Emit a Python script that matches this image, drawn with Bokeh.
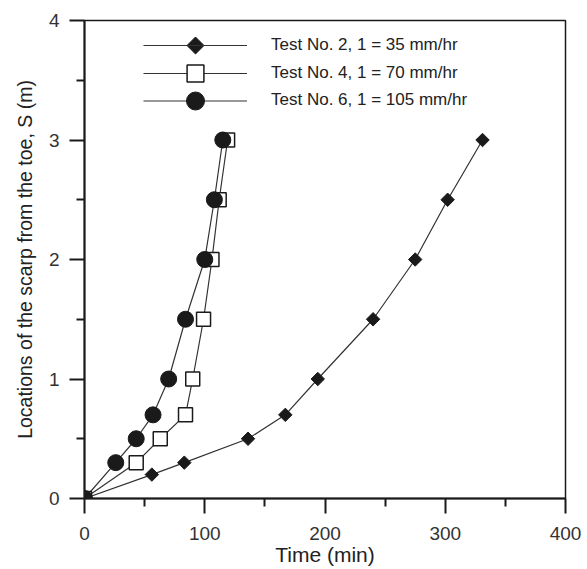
import math
from bokeh.plotting import figure
from bokeh.models import FixedTicker, Legend, LegendItem, Range1d
from bokeh.embed import file_html
from bokeh.resources import INLINE

# ---- data ----
t2_time = [0, 56, 83, 136, 167, 194, 240, 275, 302, 331]
t2_s = [0, 0.2, 0.3, 0.5, 0.7, 1.0, 1.5, 2.0, 2.5, 3.0]
t4_time = [0, 43, 63, 84, 90, 99, 106, 112, 119]
t4_s = [0, 0.3, 0.5, 0.7, 1.0, 1.5, 2.0, 2.5, 3.0]
t6_time = [0, 26, 43, 57, 70, 84, 100, 108, 115]
t6_s = [0, 0.3, 0.5, 0.7, 1.0, 1.5, 2.0, 2.5, 3.0]

labels = ["Test No. 2, 1 = 35 mm/hr",
          "Test No. 4, 1 = 70 mm/hr",
          "Test No. 6, 1 = 105 mm/hr"]

x_ticks = [0, 100, 200, 300, 400]
x_minor = [50, 150, 250, 350]
y_ticks = [0, 1, 2, 3, 4]
y_minor = [0.5, 1.5, 2.5, 3.5]

FONT = "Liberation Sans"
INK = "#1a1a1a"

# layout constants (screen px)
W, H = 587, 569
B_LEFT, B_RIGHT, B_TOP, B_BOTTOM = 84, 22, 20, 71
X0, X1, Y0, Y1 = 0, 400, 0, 4

p = figure(width=W, height=H, output_backend="svg", toolbar_location=None,
           x_range=Range1d(X0, X1), y_range=Range1d(Y0, Y1),
           min_border_left=B_LEFT, min_border_right=B_RIGHT, min_border_top=B_TOP,
           min_border_bottom=B_BOTTOM)
p.background_fill_color = "white"
p.border_fill_color = "white"
p.xgrid.visible = False
p.ygrid.visible = False
p.outline_line_color = INK
p.outline_line_width = 1.5

p.xaxis.ticker = FixedTicker(ticks=x_ticks, minor_ticks=x_minor)
p.yaxis.ticker = FixedTicker(ticks=y_ticks, minor_ticks=y_minor)
p.xaxis.axis_label = "Time (min)"
p.yaxis.axis_label = "Locations of the scarp from the toe, S (m)"

for ax in (p.xaxis[0], p.yaxis[0]):
    ax.axis_line_color = INK
    ax.axis_line_width = 2
    ax.major_tick_line_color = INK
    ax.major_tick_line_width = 2
    ax.minor_tick_line_color = INK
    ax.minor_tick_line_width = 2
    ax.major_tick_in = 0
    ax.major_tick_out = 15
    ax.minor_tick_in = 0
    ax.minor_tick_out = 8
    ax.major_label_text_font = FONT
    ax.major_label_text_font_size = "19px"
    ax.major_label_text_color = "#333333"
    ax.axis_label_text_font = FONT
    ax.axis_label_text_font_style = "normal"
    ax.axis_label_text_color = "#222222"

p.xaxis.major_label_standoff = 13
p.yaxis.major_label_standoff = 10
p.xaxis.axis_label_text_font_size = "21px"
p.xaxis.axis_label_standoff = 0
p.yaxis.axis_label_text_font_size = "19.5px"
p.yaxis.axis_label_standoff = 10

LINE = "#333333"
l2 = p.line(t2_time, t2_s, line_color=LINE, line_width=1.2)
l4 = p.line(t4_time, t4_s, line_color=LINE, line_width=1.2)
l6 = p.line(t6_time, t6_s, line_color=LINE, line_width=1.2)

s2 = p.scatter(t2_time, t2_s, marker="square", size=9.5, angle=math.pi / 4,
               fill_color=INK, line_color=INK, line_width=1)
s4 = p.scatter(t4_time, t4_s, marker="square", size=14, fill_color="white",
               line_color=INK, line_width=1.5)
s6 = p.scatter(t6_time, t6_s, marker="circle", size=16, fill_color=INK,
               line_color=INK, line_width=1)

# ---- legend: one Legend per entry so each key gets its own marker size ----
LEG_X = 59                   # legend left, px from frame left
GLYPH_W = 104
centers = [45, 73, 100]      # screen y of each row (from top of canvas)
gheights = [20, 42, 45]
frame_bottom = H - B_BOTTOM
renders = [[l2], [l4, s4], [l6, s6]]
for lab, rs, cy, gh in zip(labels, renders, centers, gheights):
    leg = Legend(items=[LegendItem(label=lab, renderers=rs)],
                 location=(LEG_X, frame_bottom - (cy + gh / 2)),
                 glyph_width=GLYPH_W, glyph_height=gh, label_standoff=24,
                 padding=0, margin=0, spacing=0,
                 border_line_color=None, background_fill_alpha=0,
                 label_text_font=FONT, label_text_font_size="17px",
                 label_text_color="#222222")
    p.add_layout(leg)

# legend key for the diamond series (Legend cannot rotate markers),
# placed at the centre of the first legend key, converted from screen px
frame_w = W - B_LEFT - B_RIGHT
frame_h = H - B_TOP - B_BOTTOM
key_sx = LEG_X + GLYPH_W / 2
key_sy = centers[0] - B_TOP
key_x = X0 + key_sx / frame_w * (X1 - X0)
key_y = Y1 - key_sy / frame_h * (Y1 - Y0)
p.scatter([key_x], [key_y], marker="square", size=12, angle=math.pi / 4,
          fill_color=INK, line_color=INK, line_width=1, level="overlay")

open("out.html", "w").write(file_html(p, INLINE))
